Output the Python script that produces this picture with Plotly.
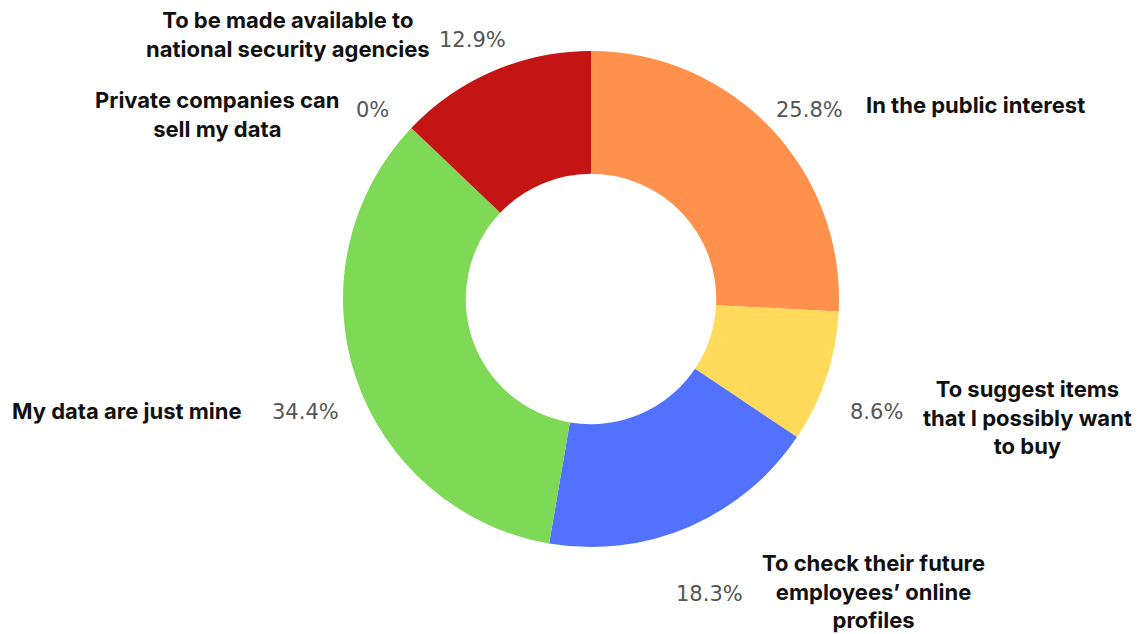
import math
import plotly.graph_objects as go

# Survey answers, clockwise from 12 o'clock
categories = [
    "In the public interest",
    "To suggest items<br>that I possibly want<br>to buy",
    "To check their future<br>employees\u2019 online<br>profiles",
    "My data are just mine",
    "Private companies can<br>sell my data",
    "To be made available to<br>national security agencies",
]
shares = [25.8, 8.6, 18.3, 34.4, 0.0, 12.9]
colors = ["#FF914D", "#FFDA5B", "#5271FF", "#7ED957", "#9E9E9E", "#C41414"]

W, H = 1142, 634
CX, CY, R = 591, 299, 248  # donut centre and outer radius, px

# Category label placement (px centre of each text block)
label_pos = [(975, 105), (1027, 417), (873, 591), (127, 411), (217, 114), (288, 34)]

fig = go.Figure(
    go.Pie(
        labels=[c.replace("<br>", " ") for c in categories],
        values=shares,
        marker=dict(colors=colors, line=dict(width=0)),
        hole=0.505,
        sort=False,
        direction="clockwise",
        rotation=0,
        textinfo="none",
        hoverinfo="label+percent",
        showlegend=False,
        domain=dict(
            x=[(CX - R) / W, (CX + R) / W],
            y=[1 - (CY + R) / H, 1 - (CY - R) / H],
        ),
    )
)

annotations = []
total = sum(shares)
cum = 0.0
for cat, v, (lx, ly) in zip(categories, shares, label_pos):
    mid = (cum + v / 2) / total * 2 * math.pi
    cum += v
    px = CX + 301 * math.sin(mid)
    py = CY - 301 * math.cos(mid) + 18
    annotations.append(dict(
        x=px / W, y=1 - py / H, xref="paper", yref="paper",
        text=f"{v:g}%", showarrow=False, xanchor="center", yanchor="middle",
        font=dict(family="DejaVu Sans", size=21, color="#555555"),
    ))
    annotations.append(dict(
        x=lx / W, y=1 - ly / H, xref="paper", yref="paper",
        text=f"<b>{cat}</b>", showarrow=False, xanchor="center", yanchor="middle",
        align="center",
        font=dict(family="Inter", size=22, color="#111111"),
    ))

fig.update_layout(
    width=W, height=H,
    margin=dict(l=0, r=0, t=0, b=0),
    paper_bgcolor="white",
    plot_bgcolor="white",
    annotations=annotations,
)

fig.write_html("out.html")
